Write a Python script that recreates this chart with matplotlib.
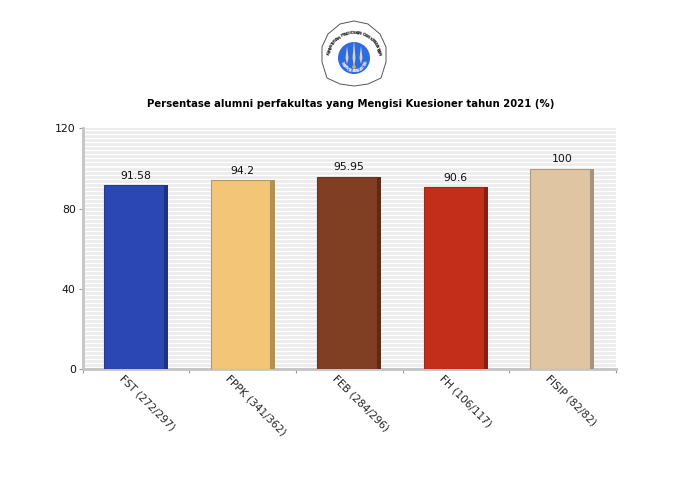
#!/usr/bin/env python3
# -*- coding: utf-8 -*-

import numpy as np
import matplotlib
matplotlib.use("Agg")
import matplotlib.pyplot as plt
from matplotlib.patches import Circle, Polygon

categories = ["FST (272/297)", "FPPK (341/362)", "FEB (284/296)", "FH (106/117)", "FISIP (82/82)"]
values = [91.58, 94.2, 95.95, 90.6, 100]
value_labels = ["91.58", "94.2", "95.95", "90.6", "100"]
colors = ["#2b47b3", "#f3c677", "#803e22", "#c32e1a", "#e0c5a3"]
shades = ["#1e327d", "#b29155", "#5a2b18", "#882012", "#a89478"]
edges = ["#24398f", "#b8975a", "#6b3420", "#a32716", "#b09a80"]
y_ticks = [0, 40, 80, 120]
title = "Persentase alumni perfakultas yang Mengisi Kuesioner tahun 2021 (%)"
logo_top = "KEMENTERIAN PENDIDIKAN DAN KEBUDAYAAN"
logo_bottom = "UNIVERSITAS BANGKA BELITUNG"


def draw_logo(fig):
	# overlay in pixel coordinates, y going down
	ax = fig.add_axes([0, 0, 1, 1], zorder=5)
	ax.set_xlim(0, 700)
	ax.set_ylim(500, 0)
	ax.axis("off")
	ax.patch.set_alpha(0)
	cx, cy = 354, 53
	outline = [(354, 21), (368, 24), (380, 34), (386, 47), (386, 62), (381, 78), (368, 84), (354, 86),
			   (340, 84), (327, 78), (322, 62), (322, 47), (328, 34), (340, 24)]
	ax.add_patch(Polygon(outline, closed=True, fc="white", ec="#555555", lw=0.7))
	ax.add_patch(Circle((cx, cy + 5), 16, fc="#2f6be0", ec="none"))
	# flame shapes in the middle
	ax.add_patch(Polygon([(354, 40), (355.5, 58), (354, 68), (352.5, 58)], fc="#d8d4bc", ec="none"))
	ax.add_patch(Polygon([(347, 46), (348.5, 58), (347, 64), (345.5, 58)], fc="#d8d4bc", ec="none"))
	ax.add_patch(Polygon([(361, 46), (362.5, 58), (361, 64), (359.5, 58)], fc="#d8d4bc", ec="none"))
	ax.add_patch(Circle((354, 67), 1.8, fc="#d9b13a", ec="none"))
	# lettering around the ring
	for i, ch in enumerate(logo_top):
		a = np.radians(-172 + 164 * i / (len(logo_top) - 1))
		ax.text(cx + 25 * np.cos(a), cy + 4 + 24 * np.sin(a), ch, fontsize=3.1, fontweight="bold",
				ha="center", va="center", rotation=-np.degrees(a) - 90, color="#222222")
	for i, ch in enumerate(logo_bottom):
		a = np.radians(160 - 140 * i / (len(logo_bottom) - 1))
		ax.text(cx + 13 * np.cos(a), cy + 5 + 13 * np.sin(a), ch, fontsize=2.4, fontweight="bold",
				ha="center", va="center", rotation=90 - np.degrees(a), color="#e8e8e8")


def main():
	fig = plt.figure(figsize=(7, 5), dpi=100, facecolor="white")
	ax = fig.add_axes([82.7 / 700, (500 - 369) / 500, 533 / 700, 240.6 / 500])

	x = np.arange(len(categories))
	bar_w = 0.6
	shade_w = 0.04
	for i in x:
		ax.bar(i - shade_w / 2, values[i], bar_w - shade_w, color=colors[i], edgecolor=edges[i], lw=0.8, zorder=3)
		ax.bar(i + bar_w / 2 - shade_w / 2, values[i], shade_w, color=shades[i], lw=0, zorder=3)
		ax.text(i, values[i] + 2.2, value_labels[i], ha="center", va="bottom", fontsize=7.8, color="#111111", zorder=4)

	ax.set_xlim(-0.5, len(categories) - 0.5)
	ax.set_ylim(0, 120)
	ax.set_yticks(y_ticks)
	ax.set_yticklabels([str(v) for v in y_ticks], fontsize=7.8)
	ax.set_yticks(np.arange(0, 120, 2), minor=True)
	ax.tick_params(axis="y", which="minor", length=0)
	ax.grid(which="minor", axis="y", color="#ebebeb", lw=1.8, zorder=0)
	ax.grid(which="major", axis="y", color="#ebebeb", lw=1.8, zorder=0)
	ax.set_axisbelow(True)

	ax.set_xticks(np.arange(len(categories) + 1) - 0.5)
	ax.set_xticklabels([""] * (len(categories) + 1))
	ax.tick_params(axis="both", which="major", length=3, width=0.8, color="#999999", labelcolor="#111111", pad=2)
	for i, name in enumerate(categories):
		ax.annotate(name, xy=(i, 0), xycoords=("data", "data"), xytext=(-15, -8), textcoords="offset pixels",
					rotation=-45, rotation_mode="anchor", ha="left", va="center", fontsize=7.6, color="#222222",
					annotation_clip=False)

	for s in ["top", "right"]:
		ax.spines[s].set_visible(False)
	ax.spines["left"].set_color("#c4c4c4")
	ax.spines["left"].set_linewidth(2)
	ax.spines["bottom"].set_color("#c4c4c4")
	ax.spines["bottom"].set_linewidth(2)

	fig.text(350.5 / 700, 1 - 104 / 500, title, ha="center", va="center", fontsize=7.3, fontweight="bold", color="black")
	draw_logo(fig)
	fig.savefig("out.png", dpi=100)


if __name__ == "__main__":
	main()
